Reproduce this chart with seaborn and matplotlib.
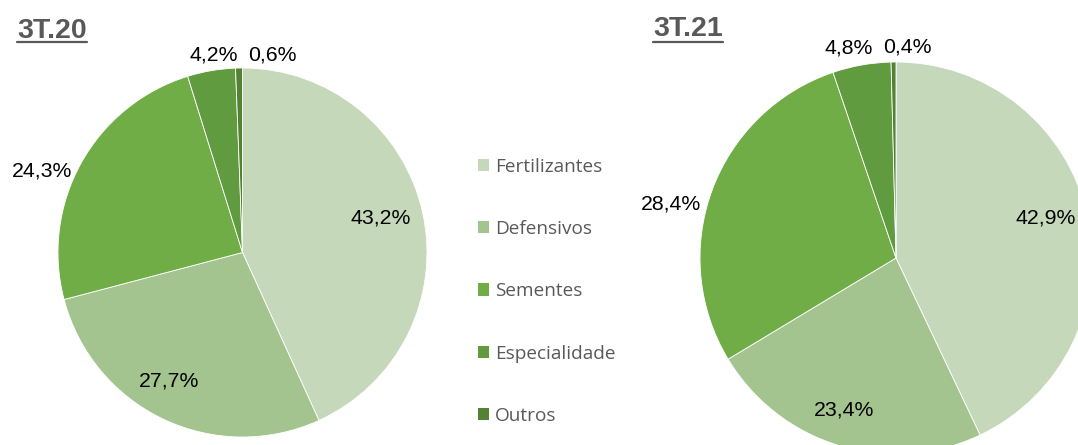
import matplotlib
matplotlib.use("Agg")
import matplotlib.pyplot as plt
import seaborn as sns
import numpy as np
from matplotlib.patches import Patch
from matplotlib.lines import Line2D
from matplotlib.transforms import Bbox

sns.set_theme(style="white")
plt.rcParams['font.family'] = ['Liberation Sans', 'DejaVu Sans']

# ---------------- data ----------------
categories = ["Fertilizantes", "Defensivos", "Sementes", "Especialidades", "Outros"]
values_3t20 = [43.2, 27.7, 24.3, 4.2, 0.6]
values_3t21 = [42.9, 23.4, 28.4, 4.8, 0.4]
titles = ["3T.20", "3T.21"]
colors = ["#c5d9ba", "#a3c48f", "#70ad47", "#619b3f", "#548235"]

# label placement style (radius ratio, angle shift deg) per slice
label_style_20 = [(0.77, 1.8), (0.80, -4.4), (1.17, 6.9), (1.08, -1.5), (1.08, -9.7)]
label_style_21 = [(0.79, 2.1), (0.82, -2.2), (1.18, 6.6), (1.10, 2.6), (1.078, -3.7)]

W, H = 1078, 445
fig = plt.figure(figsize=(W / 100, H / 100), dpi=100)


def px_axes(cx, cy, r):
    return fig.add_axes([(cx - r) / W, 1 - (cy + r) / H, 2 * r / W, 2 * r / H])


def fmt(v):
    return f"{v:.1f}%".replace(".", ",")


def draw_pie(ax, values, styles):
    wedges, _ = ax.pie(values, colors=colors, startangle=90, counterclock=False,
                       radius=1, wedgeprops=dict(edgecolor="white", linewidth=0.6))
    for w, v, (k, shift) in zip(wedges, values, styles):
        mid = np.deg2rad((w.theta1 + w.theta2) / 2 + shift)
        ax.text(k * np.cos(mid), k * np.sin(mid), fmt(v), ha="center", va="center",
                fontsize=15.3, color="black", clip_on=False)
    ax.set_xlim(-1, 1)
    ax.set_ylim(-1, 1)
    ax.axis("off")


ax1 = px_axes(242.5, 252.5, 184.5)
draw_pie(ax1, values_3t20, label_style_20)
ax2 = px_axes(896, 258, 196)
draw_pie(ax2, values_3t21, label_style_21)

# titles (baseline positions in px from top)
title_pos = [(17, 38), (653, 35.5)]
title_texts = []
for (tx, ty), t in zip(title_pos, titles):
    tt = fig.text(tx / W, 1 - ty / H, t, ha="left", va="baseline", fontsize=20.5,
                  fontweight="bold", color="#595959")
    title_texts.append(tt)

# legend
handles = [Patch(facecolor=c, edgecolor="none") for c in colors]
leg = fig.legend(handles, categories, loc="upper left",
                 bbox_to_anchor=(468 / W, 1 - 148 / H), frameon=False,
                 handlelength=0.62, handleheight=0.62,
                 handletextpad=0.3, labelspacing=2.33, borderpad=0,
                 prop={'family': ['Open Sans', 'DejaVu Sans'], 'size': 13.7})
for t in leg.get_texts():
    t.set_color("#595959")

fig.canvas.draw()
renderer = fig.canvas.get_renderer()
clip = Bbox.from_extents(0, 0, 615, H)
for t in leg.get_texts():
    t.set_clip_box(clip)
    t.set_clip_on(True)

# underline titles
for tt, (tx, ty) in zip(title_texts, title_pos):
    bb = tt.get_window_extent(renderer)
    y = H - 42
    fig.add_artist(Line2D([bb.x0 / W, bb.x1 / W], [y / H, y / H],
                          transform=fig.transFigure, color="#595959", linewidth=1.6))

fig.savefig("out.png", dpi=100)
